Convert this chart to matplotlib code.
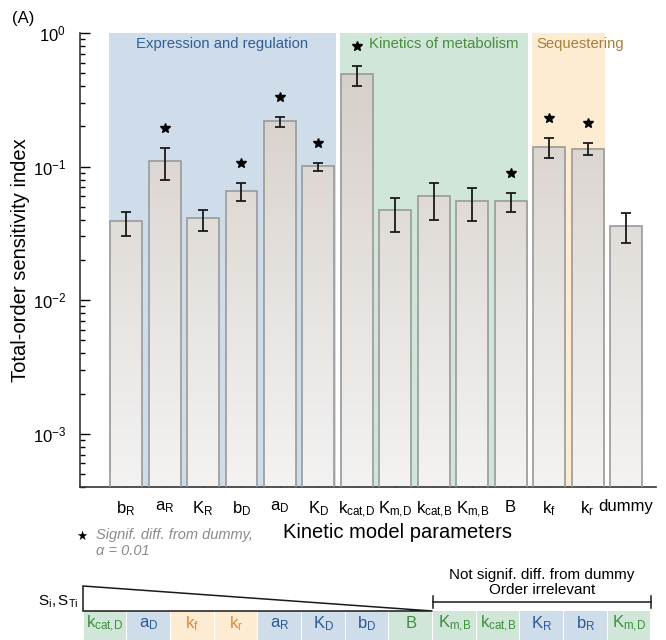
import numpy as np
import matplotlib
matplotlib.use("Agg")
import matplotlib.pyplot as plt
from matplotlib.colors import LinearSegmentedColormap
from matplotlib.patches import Rectangle, Polygon
import matplotlib.transforms as mtransforms

plt.rcParams['font.family'] = ['Liberation Sans', 'DejaVu Sans']
plt.rcParams['mathtext.fontset'] = 'custom'
plt.rcParams['mathtext.rm'] = 'Liberation Sans'
plt.rcParams['mathtext.it'] = 'Liberation Sans:italic'
plt.rcParams['mathtext.bf'] = 'Liberation Sans:bold'

# data
params = [r'$\mathrm{b_R}$', r'$\mathrm{a_R}$', r'$\mathrm{K_R}$', r'$\mathrm{b_D}$',
          r'$\mathrm{a_D}$', r'$\mathrm{K_D}$', r'$\mathrm{k_{cat{,}D}}$', r'$\mathrm{K_{m{,}D}}$',
          r'$\mathrm{k_{cat{,}B}}$', r'$\mathrm{K_{m{,}B}}$', 'B', r'$\mathrm{k_f}$', r'$\mathrm{k_r}$', 'dummy']
sti = [0.039, 0.111, 0.041, 0.066, 0.219, 0.101, 0.49, 0.047, 0.060, 0.0557, 0.0557, 0.141, 0.136, 0.036]
err_hi = [0.046, 0.139, 0.047, 0.075, 0.234, 0.107, 0.567, 0.058, 0.076, 0.069, 0.0636, 0.164, 0.149, 0.0446]
err_lo = [0.0305, 0.080, 0.033, 0.055, 0.199, 0.092, 0.40, 0.0326, 0.040, 0.0395, 0.046, 0.116, 0.123, 0.0266]
signif = [False, True, False, True, True, True, True, False, False, False, True, True, True, False]
group = ['expr'] * 6 + ['kin'] * 5 + ['seq'] * 2 + [None]

group_names = {'expr': 'Expression and regulation', 'kin': 'Kinetics of metabolism', 'seq': 'Sequestering'}
group_bg = {'expr': '#cfdce9', 'kin': '#d0e6d8', 'seq': '#fdebd2'}
group_fg = {'expr': '#2f5f96', 'kin': '#4a8c3c', 'seq': '#a67f3e'}

# ranking panel
rank = [r'$\mathrm{k_{cat{,}D}}$', r'$\mathrm{a_D}$', r'$\mathrm{k_f}$', r'$\mathrm{k_r}$', r'$\mathrm{a_R}$',
        r'$\mathrm{K_D}$', r'$\mathrm{b_D}$', 'B', r'$\mathrm{K_{m{,}B}}$', r'$\mathrm{k_{cat{,}B}}$',
        r'$\mathrm{K_R}$', r'$\mathrm{b_R}$', r'$\mathrm{K_{m{,}D}}$']
rank_group = ['kin', 'expr', 'seq', 'seq', 'expr', 'expr', 'expr', 'kin', 'kin', 'kin', 'expr', 'expr', 'kin']
n_ordered = 8
cell_fg = {'expr': '#2b5c94', 'kin': '#3f8f3f', 'seq': '#e08a3c'}

fig = plt.figure(figsize=(6.66, 6.40), dpi=100)
ax = fig.add_axes([80 / 666, 1 - 487 / 640, 576 / 666, 454 / 640])

x = np.arange(len(params))
w = 0.83
ax.set_yscale('log')
ax.set_ylim(4e-4, 1)
ax.set_xlim(-1.2, 13.78)

# group backgrounds
for g in ['expr', 'kin', 'seq']:
    idx = [i for i, gg in enumerate(group) if gg == g]
    ax.axvspan(min(idx) - 0.45, max(idx) + 0.45, color=group_bg[g], lw=0, zorder=0)

# bars with vertical gradient
cmap = LinearSegmentedColormap.from_list('barfill', ['#f4f3f2', '#d3ccc6'])
grad = np.linspace(0, 1, 256).reshape(-1, 1)
bars = ax.bar(x, sti, width=w, facecolor='none', edgecolor='#9a9a9a', lw=1.2, zorder=3)
for b in bars:
    im = ax.imshow(grad, extent=[0, 1, 0, 1], origin='lower', cmap=cmap, aspect='auto',
                   transform=ax.transAxes, zorder=2, interpolation='bilinear')
    im.set_clip_path(b)

yerr = [np.array(sti) - np.array(err_lo), np.array(err_hi) - np.array(sti)]
ax.errorbar(x, sti, yerr=yerr, fmt='none', ecolor='#1a1a1a', elinewidth=1.3,
            capsize=3.8, capthick=1.3, zorder=4)

star_shift = ax.transData + mtransforms.ScaledTranslation(0, 20 / 100, fig.dpi_scale_trans)
for xi, hi, s in zip(x, err_hi, signif):
    if s:
        ax.plot([xi], [hi], marker='*', ms=7.5, color='black', ls='none', zorder=5,
                transform=star_shift, clip_on=False)

tr = mtransforms.blended_transform_factory(ax.transData, ax.transAxes)
ax.text(2.5, 0.976, group_names['expr'], color=group_fg['expr'], fontsize=10.7,
        ha='center', va='center', transform=tr)
ax.text(6.32, 0.976, group_names['kin'], color=group_fg['kin'], fontsize=10.7,
        ha='left', va='center', transform=tr)
ax.text(10.66, 0.976, group_names['seq'], color=group_fg['seq'], fontsize=10.7,
        ha='left', va='center', transform=tr)

ax.set_xticks(x)
ax.set_xticklabels(params, fontsize=12)
ax.tick_params(axis='x', direction='in', length=4, width=1, pad=9, color='#333333')
ax.tick_params(axis='y', which='major', direction='in', length=7, width=1, pad=10, labelsize=12)
ax.tick_params(axis='y', which='minor', direction='in', length=3.8, width=1)
for side in ['top', 'right']:
    ax.spines[side].set_visible(False)
for side in ['left', 'bottom']:
    ax.spines[side].set_linewidth(1.2)
    ax.spines[side].set_color('#333333')

ax.set_ylabel('Total-order sensitivity index', fontsize=14.5)
ax.yaxis.set_label_coords(-0.087, 0.5)
fig.text(397 / 666, 1 - 533 / 640, 'Kinetic model parameters', fontsize=14.5, ha='center', va='center')
fig.text(12 / 666, 1 - 18 / 640, '(A)', fontsize=12, ha='left', va='center')

# significance note
fig.text(82 / 666, 1 - 536 / 640, '★', fontsize=9, ha='center', va='center', family=['DejaVu Sans'])
fig.text(96 / 666, 1 - 535 / 640, 'Signif. diff. from dummy,', fontsize=10.5, style='italic',
         color='#8a8a8a', ha='left', va='center')
fig.text(96 / 666, 1 - 551 / 640, 'α = 0.01', fontsize=10.5, style='italic',
         color='#8a8a8a', ha='left', va='center')

# ranking panel
bx = fig.add_axes([83 / 666, 0, 568 / 666, 54 / 640])
bx.set_xlim(0, len(rank))
bx.set_ylim(0, 1)
bx.axis('off')
cell_h = 29 / 54
for i, (lab, g) in enumerate(zip(rank, rank_group)):
    bx.add_patch(Rectangle((i + 0.012, 0), 0.976, cell_h, facecolor=group_bg[g], lw=0))
    bx.text(i + 0.5, cell_h / 2 + 0.03, lab, color=cell_fg[g], fontsize=12, ha='center', va='center')
bx.add_patch(Polygon([(0, cell_h), (0, 1), (n_ordered, cell_h)], closed=True,
                     facecolor='white', edgecolor='#1a1a1a', lw=1.1, clip_on=False))
bx.plot([n_ordered, len(rank)], [0.70, 0.70], color='#1a1a1a', lw=1.1, clip_on=False)
for xe in [n_ordered, len(rank)]:
    bx.plot([xe, xe], [0.59, 0.81], color='#1a1a1a', lw=1.1, clip_on=False)
bx.text((n_ordered + len(rank)) / 2, 1.20, 'Not signif. diff. from dummy', fontsize=11,
        ha='center', va='center', clip_on=False)
bx.text((n_ordered + len(rank)) / 2, 0.925, 'Order irrelevant', fontsize=11,
        ha='center', va='center', clip_on=False)
bx.text(-0.1, 0.70, r'$\mathrm{S_i, S_{Ti}}$', fontsize=11, ha='right', va='center', clip_on=False)

fig.savefig('out.png', dpi=100)
